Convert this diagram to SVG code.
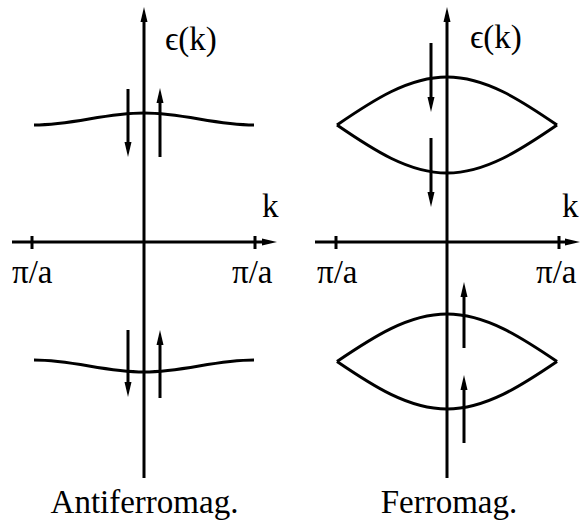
<svg xmlns="http://www.w3.org/2000/svg" width="580" height="522" viewBox="0 0 580 522">
<style>
.ax{stroke:#000;stroke-width:3;fill:none}
.tk{stroke:#000;stroke-width:3}
.band{stroke:#000;stroke-width:3;fill:none}
.spin{stroke:#000;stroke-width:3;fill:none;marker-end:url(#ah)}
.axa{marker-end:url(#ah)}
.lb{font-family:'Liberation Serif','Times New Roman',Times,'DejaVu Serif',serif;font-size:33px;fill:#000}
</style>
<defs>
<marker id="ah" markerUnits="userSpaceOnUse" markerWidth="18" markerHeight="10" refX="5" refY="4" orient="auto">
<path d="M0,0.5 L15,4 L0,7.5 z" fill="#000"/>
</marker>
</defs>
<rect width="580" height="522" fill="#fff"/>
<g id="connectors">
<line class="ax axa" x1="144" y1="478" x2="144" y2="17"/>
<line class="ax axa" x1="12" y1="242" x2="267" y2="242"/>
<line class="tk" x1="32" y1="236" x2="32" y2="249"/>
<line class="tk" x1="255" y1="236" x2="255" y2="249"/>
<line class="ax axa" x1="447" y1="478" x2="447" y2="17"/>
<line class="ax axa" x1="315" y1="242" x2="570" y2="242"/>
<line class="tk" x1="336" y1="236" x2="336" y2="249"/>
<line class="tk" x1="559" y1="236" x2="559" y2="249"/>
</g>
<g id="antiferro-bands">
<path class="band" d="M34,125 C74,125 104,113 144,113 C184,113 214,125 254,125"/>
<path class="band" d="M34,360 C74,360 104,372 144,372 C184,372 214,360 254,360"/>
</g>
<g id="ferro-bands">
<path class="band" d="M337,125 C372.9,100.4 408.4,77 447,77 C485.6,77 521.1,100.4 557,125"/>
<path class="band" d="M337,125 C372.9,149.6 408.4,173 447,173 C485.6,173 521.1,149.6 557,125"/>
<path class="band" d="M337,361.5 C372.9,337.1 408.4,314 447,314 C485.6,314 521.1,337.1 557,361.5"/>
<path class="band" d="M337,361.5 C372.9,385.9 408.4,409 447,409 C485.6,409 521.1,385.9 557,361.5"/>
</g>
<g id="spins">
<line class="spin" x1="128" y1="89" x2="128" y2="147"/>
<line class="spin" x1="160" y1="157" x2="160" y2="98"/>
<line class="spin" x1="128" y1="330" x2="128" y2="387"/>
<line class="spin" x1="160" y1="398" x2="160" y2="340"/>
<line class="spin" x1="431" y1="43" x2="431" y2="102"/>
<line class="spin" x1="431" y1="138" x2="431" y2="197"/>
<line class="spin" x1="464" y1="348" x2="464" y2="292"/>
<line class="spin" x1="464" y1="443" x2="464" y2="385"/>
</g>
<g id="labels" class="lb" font-family="Liberation Serif, serif">
<text class="lb" x="165" y="50">ϵ(k)</text>
<text class="lb" x="470" y="48">ϵ(k)</text>
<text class="lb" x="262" y="217">k</text>
<text class="lb" x="562" y="217">k</text>
<text class="lb" x="12" y="283">π/a</text>
<text class="lb" x="232" y="283">π/a</text>
<text class="lb" x="317" y="283">π/a</text>
<text class="lb" x="536" y="283">π/a</text>
<text class="lb" x="144.5" y="513" text-anchor="middle">Antiferromag.</text>
<text class="lb" x="449" y="513" text-anchor="middle">Ferromag.</text>
</g>
</svg>
